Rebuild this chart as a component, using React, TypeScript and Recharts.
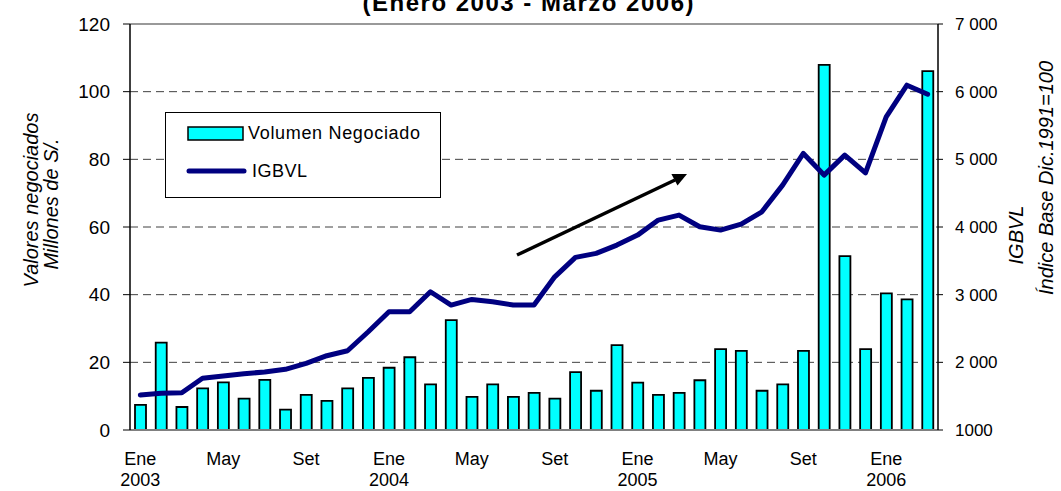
import { ComposedChart, Bar, Line, XAxis, YAxis, CartesianGrid, ReferenceLine, Legend } from 'recharts';

const meses = [
  'Ene 2003', 'Feb 2003', 'Mar 2003', 'Abr 2003', 'May 2003', 'Jun 2003', 'Jul 2003', 'Ago 2003', 'Set 2003', 'Oct 2003', 'Nov 2003', 'Dic 2003',
  'Ene 2004', 'Feb 2004', 'Mar 2004', 'Abr 2004', 'May 2004', 'Jun 2004', 'Jul 2004', 'Ago 2004', 'Set 2004', 'Oct 2004', 'Nov 2004', 'Dic 2004',
  'Ene 2005', 'Feb 2005', 'Mar 2005', 'Abr 2005', 'May 2005', 'Jun 2005', 'Jul 2005', 'Ago 2005', 'Set 2005', 'Oct 2005', 'Nov 2005', 'Dic 2005',
  'Ene 2006', 'Feb 2006', 'Mar 2006',
];

// Volumen negociado (millones de S/.)
const volumen = [
  7.4, 25.8, 6.8, 12.3, 14.1, 9.3, 14.8, 6.0, 10.4, 8.6, 12.3, 15.4,
  18.4, 21.5, 13.5, 32.5, 9.8, 13.5, 9.8, 11.0, 9.3, 17.1, 11.6, 25.1,
  14.0, 10.4, 11.0, 14.7, 23.9, 23.4, 11.6, 13.5, 23.4, 107.9, 51.4, 23.9,
  40.4, 38.6, 106.1,
];

// IGBVL (índice base dic. 1991 = 100)
const igbvl = [
  1517, 1542, 1551, 1764, 1798, 1832, 1857, 1897, 1985, 2098, 2171, 2452,
  2747, 2747, 3043, 2846, 2930, 2895, 2846, 2846, 3264, 3551, 3610, 3733,
  3880, 4102, 4176, 4003, 3954, 4043, 4225, 4619, 5087, 4767, 5062, 4801,
  5628, 6096, 5963,
];

const ticksIzq = [0, 20, 40, 60, 80, 100, 120];
const ticksDer = [1000, 2000, 3000, 4000, 5000, 6000, 7000];
const lineasGrid = [20, 40, 60, 80, 100];

const data = meses.map((mes, i) => ({ mes, volumen: volumen[i], igbvl: igbvl[i] }));

const FONT = '"Liberation Sans", Arial, Helvetica, sans-serif';
const CYAN = '#00FFFF';
const NAVY = '#000080';

function MesTick({ x, y, payload }: any) {
  const [m, anio] = String(payload.value).split(' ');
  return (
    <text x={x} y={y} textAnchor="middle" fontFamily={FONT} fontSize={18} fill="#000">
      <tspan x={x} dy={35}>{m}</tspan>
      {m === 'Ene' && <tspan x={x} dy={21}>{anio}</tspan>}
    </text>
  );
}

function Leyenda() {
  return (
    <div style={{ width: 274, height: 84, border: '1px solid #000', background: '#fff' }}>
      <svg width={274} height={84} style={{ display: 'block' }}>
        <rect x={22} y={14} width={55} height={13} fill={CYAN} stroke="#000" strokeWidth={1.5} />
        <text x={82} y={26} fontFamily={FONT} fontSize={18} textLength={172} lengthAdjust="spacing">
          Volumen Negociado
        </text>
        <line x1={23} y1={58} x2={78} y2={58} stroke={NAVY} strokeWidth={5} strokeLinecap="round" />
        <text x={86} y={64} fontFamily={FONT} fontSize={18} textLength={55} lengthAdjust="spacing">
          IGBVL
        </text>
      </svg>
    </div>
  );
}

export default function App() {
  const fmtDer = (v: number) => (v === 1000 ? '1000' : `${v / 1000} 000`);

  return (
    <div style={{ position: 'absolute', left: 0, top: 0, width: 1061, height: 491, background: '#fff' }}>
      <ComposedChart
        width={1061}
        height={491}
        data={data}
        margin={{ top: 24, right: 0, bottom: 0, left: 0 }}
        barCategoryGap={0}
      >
        <CartesianGrid
          horizontal
          vertical={false}
          horizontalValues={lineasGrid}
          yAxisId="izq"
          stroke="#404040"
          strokeDasharray="8 5"
        />
        <XAxis
          dataKey="mes"
          interval={3}
          height={61}
          tickSize={0}
          tickMargin={0}
          tickLine={false}
          axisLine={{ stroke: '#808080', strokeWidth: 2 }}
          tick={<MesTick />}
        />
        <YAxis
          yAxisId="izq"
          orientation="left"
          width={130}
          domain={[0, 120]}
          ticks={ticksIzq}
          tickSize={7}
          tickMargin={13}
          axisLine={{ stroke: '#000', strokeWidth: 1.5 }}
          tickLine={{ stroke: '#000' }}
          tick={{ fontFamily: FONT, fontSize: 19, fill: '#000' }}
        />
        <YAxis
          yAxisId="der"
          orientation="right"
          width={123}
          domain={[1000, 7000]}
          ticks={ticksDer}
          tickFormatter={fmtDer}
          tickSize={5}
          tickMargin={12}
          axisLine={{ stroke: '#000', strokeWidth: 1.5 }}
          tickLine={{ stroke: '#000' }}
          tick={{ fontFamily: FONT, fontSize: 17, fill: '#000' }}
        />
        <ReferenceLine yAxisId="izq" y={120} stroke="#999" strokeWidth={2} />
        <Bar
          yAxisId="izq"
          dataKey="volumen"
          barSize={11}
          fill={CYAN}
          stroke="#000"
          strokeWidth={1.8}
          isAnimationActive={false}
        />
        <Line
          yAxisId="der"
          type="linear"
          dataKey="igbvl"
          stroke={NAVY}
          strokeWidth={5}
          strokeLinejoin="round"
          strokeLinecap="round"
          dot={false}
          activeDot={false}
          isAnimationActive={false}
        />
        <Legend
          content={<Leyenda />}
          layout="vertical"
          align="center"
          verticalAlign="middle"
          wrapperStyle={{ left: 165, top: 112, width: 276, height: 86 }}
        />
      </ComposedChart>

      {/* título (cortado arriba), títulos de ejes y flecha */}
      <svg
        width={1061}
        height={491}
        style={{ position: 'absolute', left: 0, top: 0, pointerEvents: 'none' }}
      >
        <text x={528} y={11} textAnchor="middle" fontFamily={FONT} fontSize={24} fontWeight="bold" textLength={331} lengthAdjust="spacing">
          (Enero 2003 - Marzo 2006)
        </text>
        <g fontFamily={FONT} fontSize={20} fontStyle="italic" textAnchor="middle" fill="#000">
          <text transform="translate(38,200) rotate(-90)">Valores negociados</text>
          <text transform="translate(58,204) rotate(-90)">Millones de S/.</text>
          <text transform="translate(1023,235) rotate(-90)">IGBVL</text>
          <text transform="translate(1053,178) rotate(-90)">Índice Base Dic.1991=100</text>
        </g>
        <line x1={517} y1={255} x2={675} y2={180} stroke="#000" strokeWidth={3.5} />
        <polygon points="687,174 677.5,185.6 671.4,173.9" fill="#000" />
      </svg>
    </div>
  );
}
